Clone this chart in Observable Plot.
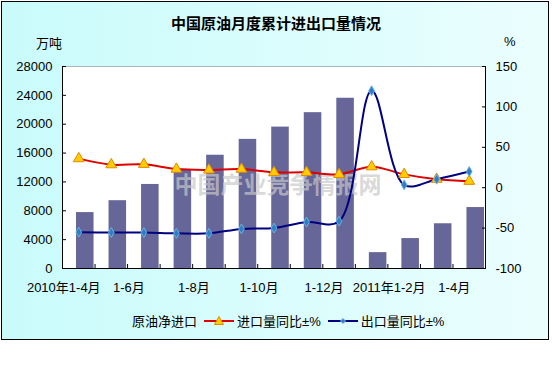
<!DOCTYPE html>
<html><head><meta charset="utf-8">
<script src="https://cdn.jsdelivr.net/npm/d3@7"></script>
<script src="https://cdn.jsdelivr.net/npm/@observablehq/plot@0.6"></script>
<style>
body{margin:0;background:#fff;}
#wrap{position:relative;width:552px;height:367px;overflow:hidden;font-family:'Liberation Sans','Noto Sans CJK SC',sans-serif;}
#box{position:absolute;left:1px;top:1px;width:548px;height:339px;box-sizing:border-box;border:1px solid #000;background:linear-gradient(to right,#c9fbfb,#ebfefe);}
#chart{position:absolute;left:0;top:0;}
.t{position:absolute;white-space:nowrap;color:#000;}
#title{left:0;width:552px;top:12px;text-align:center;font-family:'Noto Sans CJK SC',sans-serif;font-weight:bold;font-size:15px;}
#unitL{left:36px;top:33px;font-size:13px;font-family:'Noto Sans CJK SC',sans-serif;}
#unitR{left:504px;top:34px;font-size:13px;}
#legend{left:132px;top:311px;font-size:13px;display:flex;align-items:center;font-family:'Liberation Sans','Noto Sans CJK SC',sans-serif;}
#legend svg{display:block;}
</style></head>
<body>
<div id="wrap">
<div id="box"></div>
<div id="chart"></div>
<div class="t" id="title">中国原油月度累计进出口量情况</div>
<div class="t" id="unitL">万吨</div>
<div class="t" id="unitR">%</div>
<div class="t" id="legend">
<span>原油净进口</span>
<svg width="34" height="14" style="margin:0 1px 0 5px"><line x1="2" y1="7" x2="32" y2="7" stroke="#dd0000" stroke-width="2"/><path d="M17,2.5 L21.5,10.5 L12.5,10.5 Z" fill="#ffcc00" stroke="#e08a00" stroke-width="1"/></svg>
<span>进口量同比±%</span>
<svg width="34" height="14" style="margin:0 1px 0 5px"><line x1="2" y1="7" x2="32" y2="7" stroke="#000080" stroke-width="2"/><path d="M17,4.5 L19.5,7 L17,9.5 L14.5,7 Z" fill="#2f7fc0" stroke="#66b3e6" stroke-width="1"/></svg>
<span>出口量同比±%</span>
</div>
</div>
<script>
const categories = ["2010年1-4月","1-5月","1-6月","1-7月","1-8月","1-9月","1-10月","1-11月","1-12月","2011年1月","2011年1-2月","1-3月","1-4月"];
const netImport = [7750, 9400, 11650, 13700, 15700, 17900, 19600, 21600, 23600, 2200, 4150, 6200, 8450];
const importYoY = [36, 28.5, 29, 23, 22, 23, 19, 19, 16.5, 26, 16.5, 10.5, 8];
const exportYoY = [-55, -55.5, -55.5, -56.5, -56.5, -51, -50, -42.5, -41.5, 120, 3.5, 10.5, 20];
const ticksLeft = [0, 4000, 8000, 12000, 16000, 20000, 24000, 28000];
const ticksRight = [-100, -50, 0, 50, 100, 150];
const labelIndex = [0, 2, 4, 6, 8, 10, 12];

const leftMax = 28000, rMin = -100, rMax = 150;
const toL = v => (v - rMin) / (rMax - rMin) * leftMax;
const fromL = v => Math.round(v / leftMax * (rMax - rMin) + rMin);

const rows = categories.map((c, i) => ({i, c, net: netImport[i], imp: importYoY[i], exp: exportYoY[i]}));
const n = categories.length;
const bounds = d3.range(n - 1).map(i => i + 0.5);

const chart = Plot.plot({
  width: 552, height: 341,
  marginLeft: 62, marginRight: 67, marginTop: 66, marginBottom: 73,
  style: {background: "transparent", fontFamily: "'Liberation Sans','Noto Sans CJK SC',sans-serif", fontSize: "13px", color: "#000", overflow: "visible"},
  x: {type: "linear", domain: [-0.5, n - 0.5]},
  y: {domain: [0, leftMax]},
  marks: [
    Plot.frame({fill: "white", stroke: "#a8b8c0"}),
    Plot.rectY(rows, {x1: d => d.i - 0.5, x2: d => d.i + 0.5, y: "net", insetLeft: 14, insetRight: 1, fill: "#666699"}),
    Plot.text(["中国产业竞争情报网"], {text: d => d, frameAnchor: "middle", dx: 4, dy: 18, fontSize: 23, fontWeight: "bold", fill: "#c8c8c8", fillOpacity: 0.7, fontFamily: "'Noto Sans CJK SC',sans-serif"}),
    Plot.line(rows, {x: "i", y: d => toL(d.imp), stroke: "#dd0000", strokeWidth: 2, curve: "catmull-rom"}),
    Plot.line(rows, {x: "i", y: d => toL(d.exp), stroke: "#000080", strokeWidth: 2, curve: "catmull-rom"}),
    Plot.dot(rows, {x: "i", y: d => toL(d.imp), symbol: "triangle", r: 4, fill: "#ffcc00", stroke: "#e08a00", strokeWidth: 1}),
    Plot.dot(rows, {x: "i", y: d => toL(d.exp), symbol: "diamond", r: 3, fill: "#2f7fc0", stroke: "#66b3e6", strokeWidth: 1}),
    Plot.ruleX([-0.5, n - 0.5], {stroke: "#000", strokeWidth: 1}),
    Plot.ruleY([0], {stroke: "#000", strokeWidth: 1}),
    Plot.axisY(ticksLeft, {anchor: "left", tickSize: -4, tickFormat: () => "", label: null}),
    Plot.axisY(ticksLeft, {anchor: "left", tickSize: 0, tickPadding: 10, tickFormat: d => String(d), label: null, fontSize: 13}),
    Plot.axisY(ticksRight.map(toL), {anchor: "right", tickSize: -4, tickFormat: () => "", label: null}),
    Plot.axisY(ticksRight.map(toL), {anchor: "right", tickSize: 0, tickPadding: 10, tickFormat: v => String(fromL(v)), label: null, fontSize: 13}),
    Plot.axisX(bounds, {tickSize: -4, tickFormat: () => "", label: null}),
    Plot.axisX(labelIndex, {tickSize: 0, tickPadding: 14, tickFormat: i => categories[i], label: null, dx: -15, fontSize: 13})
  ]
});
document.getElementById("chart").appendChild(chart);
</script>
</body></html>
